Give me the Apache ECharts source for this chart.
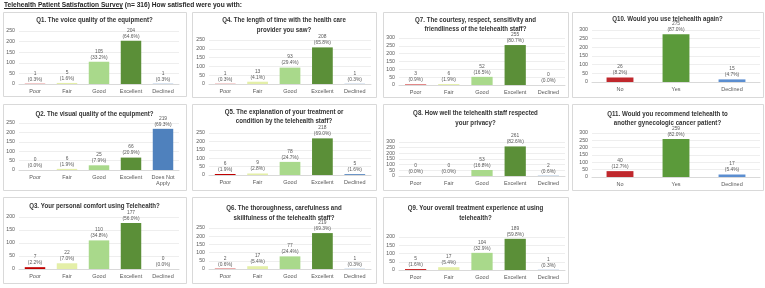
<!DOCTYPE html>
<html>
<head>
<meta charset="utf-8">
<script src="https://cdn.jsdelivr.net/npm/echarts@6/dist/echarts.min.js"></script>
<style>
    html, body { margin: 0; padding: 0; background: #fff; }
    .maxBox { position: relative; width: 765px; height: 288px; }
    #main { position: absolute; left: 0; top: 0; width: 765px; height: 288px; }
    .hdr {
        position: absolute; left: 4px; top: 1px; z-index: 2;
        font-family: 'Liberation Sans', Arial, sans-serif;
        font-size: 6.6px; font-weight: bold; color: #262626; white-space: nowrap;
    }
</style>
</head>
<body>
<div class="maxBox">
    <div id="main"></div>
    <div class="hdr"><u>Telehealth Patient Satisfaction Survey</u> (n= 316) How satisfied were you with:</div>
</div>
<script>
    // survey data (n = 316)
    const N = 316;
    const rating = ['Poor', 'Fair', 'Good', 'Excellent', 'Declined'];
    const ratingQ2 = ['Poor', 'Fair', 'Good', 'Excellent', 'Does Not\nApply'];
    const yesNo = ['No', 'Yes', 'Declined'];

    const q1 = [1, 5, 105, 204, 1];
    const q2 = [0, 6, 25, 66, 219];
    const q3 = [7, 22, 110, 177, 0];
    const q4 = [1, 13, 93, 208, 1];
    const q5 = [6, 9, 78, 218, 5];
    const q6 = [2, 17, 77, 219, 1];
    const q7 = [3, 6, 52, 255, 0];
    const q8 = [0, 0, 53, 261, 2];
    const q9 = [5, 17, 104, 189, 1];
    const q10 = [26, 275, 15];
    const q11 = [40, 259, 17];

    const ticks250 = [0, 50, 100, 150, 200, 250];
    const ticks300 = [0, 50, 100, 150, 200, 250, 300];
    const ticks200 = [0, 50, 100, 150, 200];

    const ratingColors = ['#c00000', '#e4efa8', '#a9d98b', '#5b8f38', '#4f81bd'];
    const yesNoColors = ['#c0282d', '#5b9a3a', '#5b8ed0'];

    // panels: box = [x, y, w, h], grid = [left, top, right, bottom], ty = title centre
    const panels = [
        {title: 'Q1. The voice quality of the equipment?', data: q1, cats: rating, ticks: ticks250, colors: ratingColors,
            box: [3, 12, 183, 84], grid: [19, 31, 179, 84], ty: 20},
        {title: 'Q2. The visual quality of the equipment?', data: q2, cats: ratingQ2, ticks: ticks250, colors: ratingColors,
            box: [3, 104, 183, 86], grid: [19, 123, 179, 170], ty: 114},
        {title: 'Q3. Your personal comfort using Telehealth?', data: q3, cats: rating, ticks: ticks200, colors: ratingColors,
            box: [3, 197, 183, 86], grid: [19, 217, 179, 269], ty: 206},
        {title: 'Q4. The length of time with the health care\nprovider you saw?', data: q4, cats: rating, ticks: ticks250, colors: ratingColors,
            box: [192, 12, 184, 85], grid: [209, 40, 371, 84], ty: 25},
        {title: 'Q5. The explanation of your treatment or\ncondition by the telehealth staff?', data: q5, cats: rating, ticks: ticks250, colors: ratingColors,
            box: [192, 104, 184, 86], grid: [209, 133, 371, 175], ty: 116.5},
        {title: 'Q6. The thoroughness, carefulness and\nskillfulness of the telehealth staff?', data: q6, cats: rating, ticks: ticks250, colors: ratingColors,
            box: [192, 197, 184, 86], grid: [209, 228, 371, 269], ty: 213},
        {title: 'Q7. The courtesy, respect, sensitivity and\nfriendliness of the telehealth staff?', data: q7, cats: rating, ticks: ticks300, colors: ratingColors,
            box: [383, 12, 185, 85], grid: [399, 38, 565, 85], ty: 24.5},
        {title: 'Q8. How well the telehealth staff respected\nyour privacy?', data: q8, cats: rating, ticks: ticks300, colors: ratingColors,
            box: [383, 104, 185, 86], grid: [399, 142, 565, 176], ty: 118},
        {title: 'Q9. Your overall treatment experience at using\ntelehealth?', data: q9, cats: rating, ticks: ticks200, colors: ratingColors,
            box: [383, 197, 185, 86], grid: [399, 237, 565, 270], ty: 213},
        {title: 'Q10. Would you use telehealth again?', data: q10, cats: yesNo, ticks: ticks300, colors: yesNoColors,
            box: [572, 12, 191, 85], grid: [592, 30, 760, 82], ty: 19},
        {title: 'Q11. Would you recommend telehealth to\nanother gynecologic cancer patient?', data: q11, cats: yesNo, ticks: ticks300, colors: yesNoColors,
            box: [572, 104, 191, 86], grid: [592, 133, 760, 177], ty: 118.5}
    ];

    const labelColor = '#595959';
    const grids = [], xAxes = [], yAxes = [], series = [], graphics = [];

    panels.forEach(function (p, i) {
        const g = p.grid;
        // panel frame
        graphics.push({
            type: 'rect', silent: true, z: -10,
            shape: {x: p.box[0] + 0.5, y: p.box[1] + 0.5, width: p.box[2], height: p.box[3]},
            style: {fill: null, stroke: '#d9d9d9', lineWidth: 1}
        });
        // panel title (squeezed a bit, the original uses a narrow font)
        graphics.push({
            type: 'text', silent: true,
            x: p.box[0] + p.box[2] / 2, y: p.ty,
            scaleX: 0.81,
            style: {
                text: p.title,
                font: 'bold 7.6px "Liberation Sans", Arial, sans-serif',
                lineHeight: 9.5,
                fill: '#333333',
                textAlign: 'center', textVerticalAlign: 'middle',
                align: 'center', verticalAlign: 'middle'
            }
        });
        grids.push({left: g[0], top: g[1], width: g[2] - g[0], height: g[3] - g[1]});
        xAxes.push({
            type: 'category', gridIndex: i, data: p.cats,
            axisLine: {lineStyle: {color: '#d9d9d9'}},
            axisTick: {show: false},
            axisLabel: {interval: 0, fontSize: 5.5, color: labelColor, margin: 4, lineHeight: 6.5,
                fontFamily: 'Liberation Sans, Arial, sans-serif'}
        });
        const top = p.ticks[p.ticks.length - 1];
        yAxes.push({
            type: 'value', gridIndex: i, min: p.ticks[0], max: top, interval: p.ticks[1] - p.ticks[0],
            axisLine: {show: false}, axisTick: {show: false},
            splitLine: {lineStyle: {color: '#e3e3e3', width: 0.6}},
            axisLabel: {fontSize: 5.2, color: labelColor, margin: 4,
                fontFamily: 'Liberation Sans, Arial, sans-serif'}
        });
        series.push({
            type: 'bar', xAxisIndex: i, yAxisIndex: i,
            barWidth: p.cats.length === 3 ? '48%' : '64%',
            data: p.data.map(function (v, k) {
                return {value: v, itemStyle: {color: p.colors[k]}};
            }),
            label: {
                show: true, position: 'top', distance: 1.5,
                fontSize: 4.9, lineHeight: 6, color: labelColor,
                fontFamily: 'Liberation Sans, Arial, sans-serif',
                formatter: function (d) {
                    return d.value + '\n(' + (d.value / N * 100).toFixed(1) + '%)';
                }
            }
        });
    });

    let myChart = echarts.init(document.getElementById('main'), null, {renderer: 'canvas'});
    myChart.setOption({
        animation: false,
        backgroundColor: '#fff',
        grid: grids,
        xAxis: xAxes,
        yAxis: yAxes,
        series: series,
        graphic: graphics
    });
    window.onresize = myChart.resize;
</script>
</body>
</html>
